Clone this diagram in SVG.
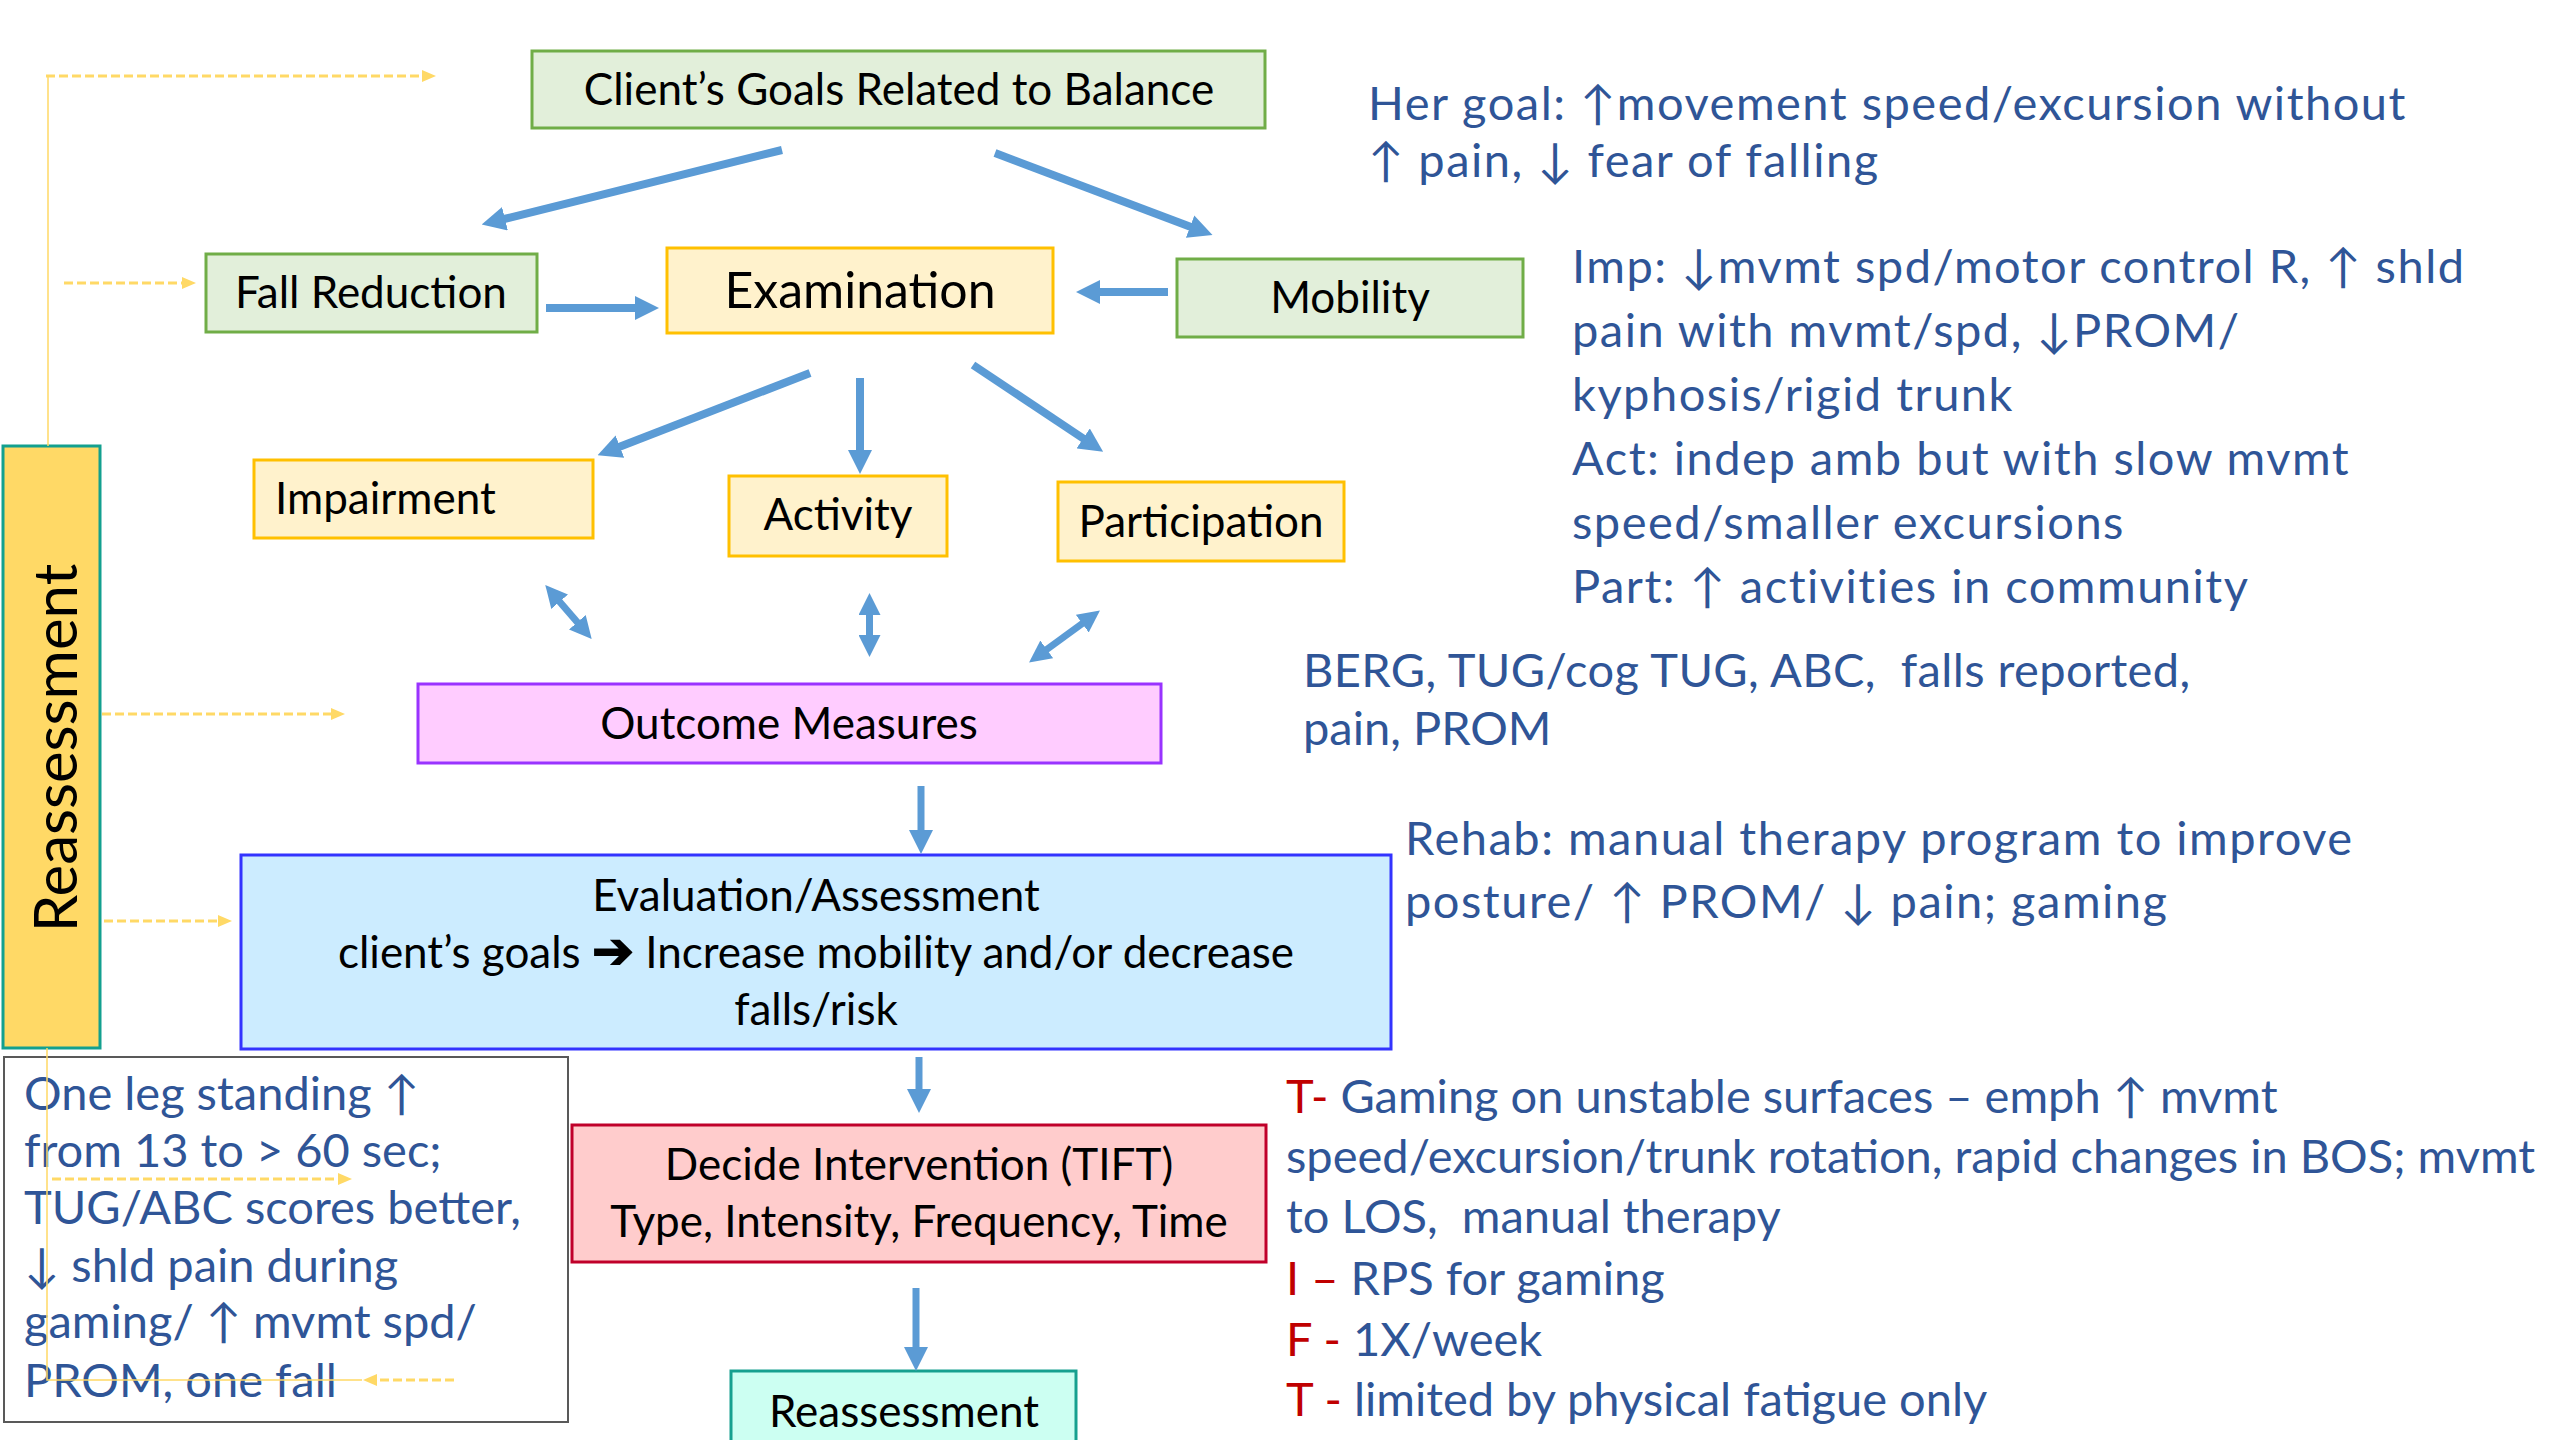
<svg xmlns="http://www.w3.org/2000/svg" width="2560" height="1440" viewBox="0 0 2560 1440">
<style>
.box{stroke-width:3}
.green{fill:#E2EFDA;stroke:#70AD47}
.yel{fill:#FFF2CC;stroke:#FFC000}
.lbl{font-family:Lato,'Liberation Sans',sans-serif;font-size:44px;fill:#000}
.note{font-family:Lato,'Liberation Sans',sans-serif;font-size:47px;fill:#2F5597}
.wide{letter-spacing:1.5px}
.red{fill:#C00000}
.arr{stroke:#5B9BD5;stroke-width:8;fill:none}
.arr2{stroke:#5B9BD5;stroke-width:7;fill:none}
.dash{stroke:#FFD966;stroke-width:3;stroke-dasharray:9 4;fill:none}
.thin{stroke:#FFD966;stroke-width:1.5;fill:none}
</style>
<defs>
<marker id="ah" markerUnits="userSpaceOnUse" viewBox="0 0 24 24" refX="1" refY="12" markerWidth="24" markerHeight="24" orient="auto"><path d="M0,0 L24,12 L0,24 z" fill="#5B9BD5"/></marker>
<marker id="ah2" markerUnits="userSpaceOnUse" viewBox="0 0 22 22" refX="1" refY="11" markerWidth="22" markerHeight="22" orient="auto-start-reverse"><path d="M0,0 L22,11 L0,22 z" fill="#5B9BD5"/></marker>
<marker id="yh" markerUnits="userSpaceOnUse" viewBox="0 0 14 12" refX="1" refY="6" markerWidth="14" markerHeight="12" orient="auto"><path d="M0,0 L14,6 L0,12 z" fill="#FFD966"/></marker>
</defs>

<g id="reassessment-bar">
<rect x="3" y="446" width="97" height="602" fill="#FFD966" stroke="#13A08F" stroke-width="3"/>
<text class="lbl" style="font-size:60px" text-anchor="middle" transform="translate(77,748) rotate(-90)">Reassessment</text>
</g>

<g id="client-goals">
<rect class="box green" x="532" y="51" width="733" height="77"/>
<text class="lbl" x="899" y="105" text-anchor="middle">Client’s Goals Related to Balance</text>
</g>
<g id="fall-reduction">
<rect class="box green" x="206" y="254" width="331" height="78"/>
<text class="lbl" x="371" y="308" text-anchor="middle">Fall Reduction</text>
</g>
<g id="examination">
<rect class="box yel" x="667" y="248" width="386" height="85"/>
<text class="lbl" style="font-size:50px" x="860" y="308" text-anchor="middle">Examination</text>
</g>
<g id="mobility">
<rect class="box green" x="1177" y="259" width="346" height="78"/>
<text class="lbl" x="1350" y="313" text-anchor="middle">Mobility</text>
</g>
<g id="impairment">
<rect class="box yel" x="254" y="460" width="339" height="78"/>
<text class="lbl" x="275" y="514">Impairment</text>
</g>
<g id="activity">
<rect class="box yel" x="729" y="476" width="218" height="80"/>
<text class="lbl" x="838" y="530" text-anchor="middle">Activity</text>
</g>
<g id="participation">
<rect class="box yel" x="1058" y="482" width="286" height="79"/>
<text class="lbl" x="1201" y="537" text-anchor="middle">Participation</text>
</g>
<g id="outcome-measures">
<rect class="box" x="418" y="684" width="743" height="79" fill="#FFCCFF" stroke="#9933FF"/>
<text class="lbl" x="789" y="739" text-anchor="middle">Outcome Measures</text>
</g>
<g id="evaluation">
<rect class="box" x="241" y="855" width="1150" height="194" fill="#CCECFF" stroke="#3333FF"/>
<text class="lbl" x="816" y="911" text-anchor="middle">Evaluation/Assessment</text>
<text class="lbl" x="816" y="968" text-anchor="middle">client’s goals <tspan font-size="50" font-weight="bold">➔</tspan> Increase mobility and/or decrease</text>
<text class="lbl" x="816" y="1025" text-anchor="middle">falls/risk</text>
</g>
<g id="decide-intervention">
<rect class="box" x="572" y="1125" width="694" height="137" fill="#FFCCCC" stroke="#C0002A"/>
<text class="lbl" x="919" y="1180" text-anchor="middle">Decide Intervention (TIFT)</text>
<text class="lbl" x="919" y="1237" text-anchor="middle">Type, Intensity, Frequency, Time</text>
</g>
<g id="reassessment">
<rect class="box" x="731" y="1371" width="345" height="90" fill="#CCFFF2" stroke="#16A08F"/>
<text class="lbl" x="904" y="1427" text-anchor="middle">Reassessment</text>
</g>
<g id="outcome-results">
<rect x="4" y="1057" width="564" height="365" fill="#FFFFFF" stroke="#595959" stroke-width="2"/>
<text class="note" x="24" y="1110">One leg standing ↑</text>
<text class="note" x="24" y="1167">from 13 to &gt; 60 sec;</text>
<text class="note" x="24" y="1224">TUG/ABC scores better,</text>
<text class="note" x="24" y="1282">↓ shld pain during</text>
<text class="note" x="24" y="1338">gaming/ ↑ mvmt spd/</text>
<text class="note" x="24" y="1397">PROM, one fall</text>
</g>

<g id="goal-note" class="wide">
<text class="note" x="1368" y="120">Her goal: ↑movement speed/excursion without</text>
<text class="note" x="1368" y="177">↑ pain, ↓ fear of falling</text>
</g>
<g id="exam-note" class="wide">
<text class="note" x="1572" y="283">Imp: ↓mvmt spd/motor control R, ↑ shld</text>
<text class="note" x="1572" y="347">pain with mvmt/spd, ↓PROM/</text>
<text class="note" x="1572" y="411">kyphosis/rigid trunk</text>
<text class="note" x="1572" y="475">Act: indep amb but with slow mvmt</text>
<text class="note" x="1572" y="539">speed/smaller excursions</text>
<text class="note" x="1572" y="603">Part: ↑ activities in community</text>
</g>
<g id="measures-note">
<text class="note" x="1303" y="687" letter-spacing="0.4" xml:space="preserve">BERG, TUG/cog TUG, ABC,  falls reported,</text>
<text class="note" x="1303" y="745">pain, PROM</text>
</g>
<g id="rehab-note" class="wide">
<text class="note" x="1405" y="855">Rehab: manual therapy program to improve</text>
<text class="note" x="1405" y="918">posture/ ↑ PROM/ ↓ pain; gaming</text>
</g>
<g id="tift-note">
<text class="note" x="1286" y="1113"><tspan class="red">T-</tspan> Gaming on unstable surfaces – emph ↑ mvmt</text>
<text class="note" x="1286" y="1173">speed/excursion/trunk rotation, rapid changes in BOS; mvmt</text>
<text class="note" x="1286" y="1233" xml:space="preserve">to LOS,  manual therapy</text>
<text class="note" x="1286" y="1295"><tspan class="red">I –</tspan> RPS for gaming</text>
<text class="note" x="1286" y="1356"><tspan class="red">F -</tspan> 1X/week</text>
<text class="note" x="1286" y="1416"><tspan class="red">T -</tspan> limited by physical fatigue only</text>
</g>

<g id="connectors">
<line class="arr" x1="782" y1="150" x2="504" y2="219" marker-end="url(#ah)"/>
<line class="arr" x1="995" y1="153" x2="1191" y2="227" marker-end="url(#ah)"/>
<line class="arr" x1="546" y1="308" x2="636" y2="308" marker-end="url(#ah)"/>
<line class="arr" x1="1168" y1="292" x2="1099" y2="292" marker-end="url(#ah)"/>
<line class="arr" x1="810" y1="373" x2="619" y2="447" marker-end="url(#ah)"/>
<line class="arr" x1="860" y1="378" x2="860" y2="451" marker-end="url(#ah)"/>
<line class="arr" x1="973" y1="365" x2="1084" y2="439" marker-end="url(#ah)"/>
<line class="arr2" x1="559" y1="601" x2="578" y2="623" marker-start="url(#ah2)" marker-end="url(#ah2)"/>
<line class="arr2" x1="869.5" y1="614" x2="869.5" y2="636" marker-start="url(#ah2)" marker-end="url(#ah2)"/>
<line class="arr2" x1="1083" y1="623" x2="1046" y2="650" marker-start="url(#ah2)" marker-end="url(#ah2)"/>
<line class="arr2" x1="921" y1="786" x2="921" y2="831" marker-end="url(#ah)"/>
<line class="arr2" x1="919" y1="1057" x2="919" y2="1090" marker-end="url(#ah)"/>
<line class="arr2" x1="916" y1="1288" x2="916" y2="1348" marker-end="url(#ah)"/>
<path class="thin" d="M48,76 V446"/>
<path class="thin" d="M47,1048 V1380 H362"/>
<line class="dash" x1="46" y1="76" x2="423" y2="76" marker-end="url(#yh)"/>
<line class="dash" x1="64" y1="283" x2="183" y2="283" marker-end="url(#yh)"/>
<line class="dash" x1="102" y1="714" x2="332" y2="714" marker-end="url(#yh)"/>
<line class="dash" x1="104" y1="921" x2="219" y2="921" marker-end="url(#yh)"/>
<line class="dash" x1="52" y1="1179" x2="339" y2="1179" marker-end="url(#yh)"/>
<line class="dash" x1="454" y1="1380" x2="376" y2="1380" marker-end="url(#yh)"/>
</g>
</svg>
